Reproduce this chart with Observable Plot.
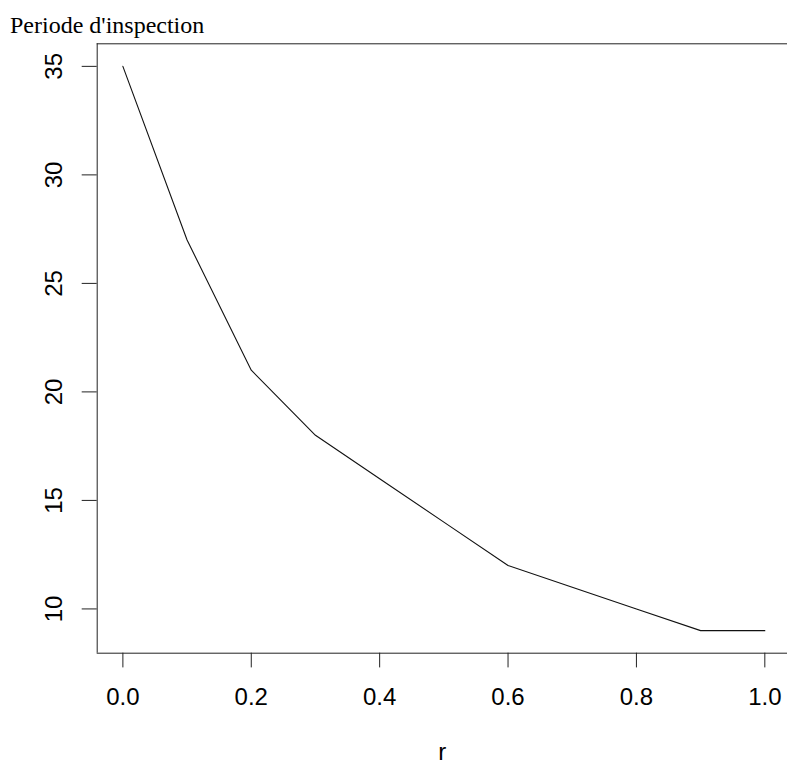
<!DOCTYPE html>
<html>
<head>
<meta charset="utf-8">
<script src="https://cdn.jsdelivr.net/npm/d3@7"></script>
<script src="https://cdn.jsdelivr.net/npm/@observablehq/plot@0.6"></script>
<style>
  html, body { margin: 0; padding: 0; background: #fff; overflow: hidden; }
  #title { height: 40px; font-family: "Liberation Serif", "Times New Roman", serif; font-size: 24px; line-height: 1; padding-left: 10px; box-sizing: border-box; padding-top: 13px; color: #000; white-space: nowrap; }
  #chart svg { display: block; overflow: visible; }
</style>
</head>
<body>
<div id="title">Periode d'inspection</div>
<div id="chart"></div>
<script>
const rValues = [0.0, 0.1, 0.2, 0.3, 0.4, 0.5, 0.6, 0.7, 0.8, 0.9, 1.0];
const periodValues = [35, 27, 21, 18, 16, 14, 12, 11, 10, 9, 9];
const xTicks = [0.0, 0.2, 0.4, 0.6, 0.8, 1.0];
const yTicks = [10, 15, 20, 25, 30, 35];
const xLabel = "r";

const data = rValues.map((r, i) => ({r, p: periodValues[i]}));
const xDomain = [-0.04, 1.04];
const yDomain = [7.96, 36.04];

const chart = Plot.plot({
  width: 787,
  height: 724,
  marginTop: 3.3,
  marginBottom: 111.3,
  marginLeft: 96.7,
  marginRight: 0,
  style: {fontFamily: "Liberation Sans, Arial, sans-serif", fontSize: "24px", color: "#000", background: "#fff"},
  x: {domain: xDomain, range: [96.7, 790]},
  y: {domain: yDomain},
  marks: [
    Plot.ruleY(yDomain, {stroke: "#222", strokeWidth: 1}),
    Plot.ruleX([xDomain[0]], {stroke: "#222", strokeWidth: 1}),
    Plot.axisX(xTicks, {tickSize: 14.7, tickPadding: 20, tickFormat: d3.format(".1f"), fontSize: 24, label: xLabel, labelAnchor: "center", labelArrow: false, labelOffset: 107, strokeWidth: 1, stroke: "#222"}),
    Plot.axisY(yTicks, {tickSize: 15, tickPadding: 20, tickRotate: -90, fontSize: 24, label: null, strokeWidth: 1, stroke: "#222"}),
    Plot.line(data, {x: "r", y: "p", stroke: "#111", strokeWidth: 1.1})
  ]
});
document.getElementById("chart").appendChild(chart);
</script>
</body>
</html>
